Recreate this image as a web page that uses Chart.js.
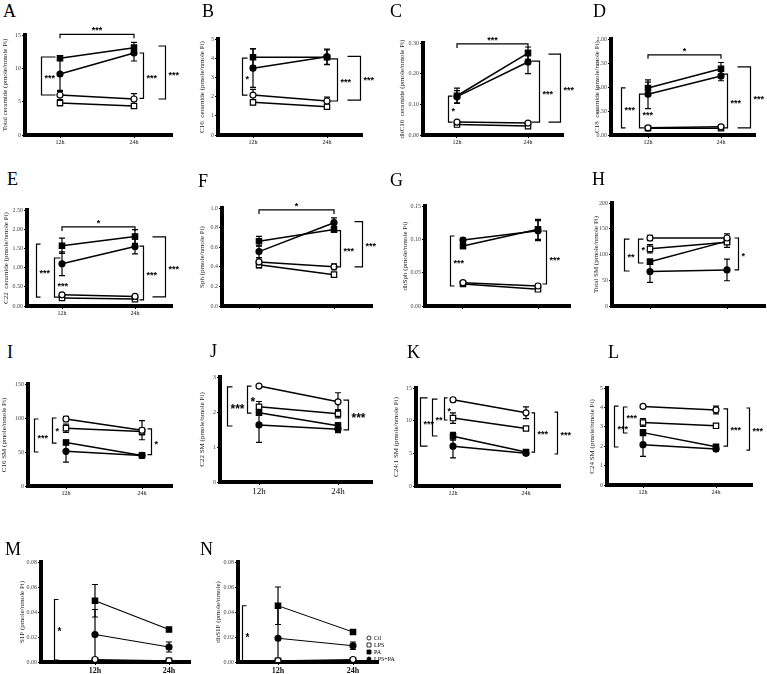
<!DOCTYPE html>
<html><head><meta charset="utf-8">
<script src="https://cdn.jsdelivr.net/npm/chart.js@4.4.0/dist/chart.umd.min.js"></script>
<style>
body{margin:0;background:#fff;width:767px;height:674px;position:relative;overflow:hidden;font-family:"Liberation Serif",serif;}
.lbl{position:absolute;font-size:18px;line-height:1;color:#000;font-family:"Liberation Serif",serif;}
canvas{position:absolute;}
</style></head><body>
<script>
// ---------- DATA ----------
const timePoints = ["12h","24h"];
const groups = ["Ctl","LPS","PA","LPS+PA"];
// each array: [Ctl, LPS, PA, LPS+PA], each entry [12h, 24h]
const totalCeramide = [[6.0,5.4],[4.8,4.35],[11.5,13.1],[9.15,12.3]];
const totalCeramideErr = [[0.7,0.8],[0.4,0.3],[0.3,0.8],[2.6,1.2]];
const totalCeramideTicks = ["0","5","10","15"];

const c16Ceramide = [[2.08,1.77],[1.7,1.47],[4.05,4.05],[3.48,4.08]];
const c16CeramideErr = [[0.3,0.2],[0.12,0.08],[0.45,0.38],[1.0,0.4]];
const c16CeramideTicks = ["0","1","2","3","4","5"];

const dhC16Ceramide = [[0.042,0.039],[0.034,0.029],[0.128,0.267],[0.125,0.238]];
const dhC16CeramideErr = [[0.005,0.004],[0.004,0.003],[0.025,0.02],[0.02,0.038]];
const dhC16CeramideTicks = ["0.00","0.10","0.20","0.30"];

const c18Ceramide = [[0.15,0.17],[0.14,0.14],[0.98,1.38],[0.85,1.23]];
const c18CeramideErr = [[0.02,0.03],[0.01,0.01],[0.12,0.13],[0.3,0.1]];
const c18CeramideTicks = ["0.00","0.50","1.00","1.50","2.00"];

const c22Ceramide = [[0.29,0.25],[0.21,0.18],[1.57,1.81],[1.1,1.55]];
const c22CeramideErr = [[0.04,0.04],[0.03,0.03],[0.2,0.18],[0.31,0.19]];
const c22CeramideTicks = ["0.00","0.50","1.00","1.50","2.00","2.50"];

const sph = [[0.45,0.40],[0.42,0.32],[0.66,0.78],[0.555,0.85]];
const sphErr = [[0.04,0.03],[0.03,0.02],[0.05,0.03],[0.06,0.05]];
const sphTicks = ["0.0","0.2","0.4","0.6","0.8","1.0"];

const dhSph = [[0.035,0.030],[0.033,0.025],[0.09,0.115],[0.099,0.113]];
const dhSphErr = [[0.003,0.003],[0.002,0.002],[0.004,0.015],[0.003,0.015]];
const dhSphTicks = ["0.00","0.05","0.10","0.15"];

const totalSM = [[132,132],[111,124],[86,126],[67,70]];
const totalSMErr = [[5,8],[8,10],[5,5],[21,21]];
const totalSMTicks = ["0","50","100","150","200"];

const c16SM = [[98.5,82],[85,80],[64,45],[51,45]];
const c16SMErr = [[4,14],[6,5],[3,2],[16,2]];
const c16SMTicks = ["0","50","100","150"];

const c22SM = [[2.74,2.29],[2.15,1.95],[1.98,1.61],[1.63,1.51]];
const c22SMErr = [[0.04,0.26],[0.15,0.12],[0.08,0.08],[0.5,0.1]];
const c22SMTicks = ["0","1","2","3"];

const c241SM = [[13.2,11.2],[10.4,8.8],[7.6,5.2],[6.1,5.0]];
const c241SMErr = [[0.3,0.9],[0.8,0.3],[0.6,0.3],[1.8,0.3]];
const c241SMTicks = ["0","5","10","15"];

const c24SM = [[4.05,3.87],[3.22,3.05],[2.7,1.97],[2.08,1.85]];
const c24SMErr = [[0.05,0.2],[0.2,0.08],[0.15,0.1],[0.6,0.1]];
const c24SMTicks = ["0","1","2","3","4","5"];

const s1p = [[0.002,0.001],[0.001,0.001],[0.049,0.026],[0.022,0.012]];
const s1pErr = [[0.001,0.0005],[0.001,0.0005],[0.013,0.001],[0.02,0.004]];
const s1pTicks = ["0.00","0.02","0.04","0.06","0.08"];

const dhS1P = [[0.001,0.002],[0.001,0.001],[0.045,0.024],[0.019,0.013]];
const dhS1PErr = [[0.001,0.001],[0.001,0.001],[0.015,0.001],[0.025,0.003]];
const dhS1PTicks = ["0.00","0.02","0.04","0.06","0.08"];

// ---------- STYLE / LAYOUT ----------
const pointStyles = ['circle','rect','rect','circle'];
const pointFills = ['#fff','#fff','#000','#000'];

// significance annotations: ['h', y, text] or ['v', x, y1, y2, text, armPx, dyPx]
const panels = [
 {k:'A', d:totalCeramide, e:totalCeramideErr, t:totalCeramideTicks, title:'Total ceramide (pmole/nmole Pi)', g:[25,35,135,172,60,134,5], lt:[3,17], xf:6, sf:9,
  sig:[['h',15.1,'***'],['v',-0.26,6.0,11.7,'***',14,0],['v',1.12,5.5,12.3,'***',-4,0],['v',1.42,5.4,13.35,'***',-7,0]]},
 {k:'B', d:c16Ceramide, e:c16CeramideErr, t:c16CeramideTicks, title:'C16  ceramide (pmole/nmole Pi)', g:[218,39,135,362,253,327,202], lt:[202,17], xf:6, sf:9,
  sig:[['v',-0.15,2.08,4.0,'*',5,0],['v',1.14,1.77,3.96,'***',-8,0],['v',1.45,1.82,4.1,'***',-13,0]]},
 {k:'C', d:dhC16Ceramide, e:dhC16CeramideErr, t:dhC16CeramideTicks, title:'dhC16  ceramide (pmole/nmole Pi)', g:[423,43,135,563,457,528,402], lt:[390,17], xf:6, sf:9,
  sig:[['h',0.297,'***'],['v',-0.13,0.042,0.127,'*',4,0],['v',1.15,0.042,0.241,'***',-8,0],['v',1.45,0.042,0.264,'***',-12,0]]},
 {k:'D', d:c18Ceramide, e:c18CeramideErr, t:c18CeramideTicks, title:'C18  ceramide (pmole/nmole Pi)', g:[611,39,135,755,648,721,597], lt:[593,17], xf:6, sf:9,
  sig:[['h',1.67,'*'],['v',-0.37,0.15,0.98,'***',4,0],['v',-0.12,0.15,0.85,'***',5,2],['v',1.08,0.15,1.27,'***',-4,0],['v',1.40,0.15,1.42,'***',-13,0]]},
 {k:'E', d:c22Ceramide, e:c22CeramideErr, t:c22CeramideTicks, title:'C22  ceramide (pmole/nmole Pi)', g:[27,210,306,172,62,135,6], lt:[7,185], xf:6, sf:9,
  sig:[['h',2.06,'*'],['v',-0.36,0.23,1.61,'***',4,0],['v',-0.11,0.23,1.25,'***',6,6],['v',1.11,0.16,1.56,'***',-4,0],['v',1.41,0.24,1.8,'***',-13,0]]},
 {k:'F', d:sph, e:sphErr, t:sphTicks, title:'Sph (pmole/nmole Pi)', g:[222,208,306,372,259,334,202], lt:[198,187], xf:0, sf:9,
  sig:[['h',0.98,'*'],['v',1.08,0.40,0.77,'***',-5,0],['v',1.37,0.40,0.86,'***',-8,0]]},
 {k:'G', d:dhSph, e:dhSphErr, t:dhSphTicks, title:'dhSph (pmole/nmole Pi)', g:[425,206,306,570,463,538,405], lt:[390,186], xf:0, sf:9,
  sig:[['v',-0.17,0.030,0.105,'***',4,0],['v',1.11,0.033,0.1125,'***',-4,0]]},
 {k:'H', d:totalSM, e:totalSMErr, t:totalSMTicks, title:'Total SM (pmole/nmole Pi)', g:[612,203,306,765,650,727,596], lt:[592,185], xf:0, sf:9,
  sig:[['v',-0.34,68,130,'**',5,0],['v',-0.16,83.5,130,'*',5,-3],['v',1.14,70,132,'*',-4,0]]},
 {k:'I', d:c16SM, e:c16SMErr, t:c16SMTicks, title:'C16 SM (pmole/nmole Pi)', g:[28,384,486,172,66,142,4], lt:[7,358], xf:6, sf:9,
  sig:[['v',-0.42,50,98.5,'***',4,0],['v',-0.18,63,100,'*',4,-2],['v',1.12,46,84,'*',-4,0]]},
 {k:'J', d:c22SM, e:c22SMErr, t:c22SMTicks, title:'C22 SM (pmole/nmole Pi)', g:[220,377,482,372,259,338,202], lt:[210,357], xf:9, sf:12,
  sig:[['v',-0.41,1.6,2.72,'***',5,0],['v',-0.15,1.97,2.74,'*',4,0],['v',1.13,1.49,2.34,'***',-5,0]]},
 {k:'K', d:c241SM, e:c241SMErr, t:c241SMTicks, title:'C24:1 SM (pmole/nmole Pi)', g:[416,388,486,560,453,526,396], lt:[407,358], xf:6, sf:9,
  sig:[['v',-0.45,6.1,13.5,'***',7,0],['v',-0.29,7.65,13.3,'**',5,0],['v',-0.12,10.1,13.5,'*',3,0],['v',1.11,5.2,11.2,'***',-3,0],['v',1.42,4.9,11.3,'***',-3,0]]},
 {k:'L', d:c24SM, e:c24SMErr, t:c24SMTicks, title:'C24 SM (pmole/nmole Pi)', g:[607,388,485,752,643,716,592], lt:[608,358], xf:6, sf:9,
  sig:[['v',-0.40,1.96,4.07,'***',4,0],['v',-0.27,2.68,4.02,'***',4,-4],['v',1.15,2.0,3.92,'***',-4,0],['v',1.45,1.8,3.97,'***',-3,0]]},
 {k:'M', d:s1p, e:s1pErr, t:s1pTicks, title:'S1P (pmole/nmole Pi)', g:[41,562,662,190,95,169,22], lt:[5,555], xf:8, xb:true, sf:10, lw:1.2,
  sig:[['v',-0.55,0.0015,0.05,'*',4,0]]},
 {k:'N', d:dhS1P, e:dhS1PErr, t:dhS1PTicks, title:'dhS1P (pmole/nmole)', g:[238,562,662,378,278,353,218], lt:[200,555], xf:8, xb:true, sf:10, lw:1, legend:true,
  sig:[['v',-0.48,0.001,0.045,'*',4,2]]}
];

const PT = 14, PR = 44, XH = 24;

const extras = {
  id: 'extras',
  beforeDatasetsDraw(chart, args, o) {
    const ctx = chart.ctx, ys = chart.scales.y;
    ctx.save();
    ctx.strokeStyle = '#000'; ctx.lineWidth = 1.2;
    chart.data.datasets.forEach((ds, i) => {
      const meta = chart.getDatasetMeta(i);
      meta.data.forEach((pt, j) => {
        const e = ds.err[j]; if (!e) return;
        const v = ds.data[j].y;
        const yt = ys.getPixelForValue(v + e), yb = ys.getPixelForValue(Math.max(v - e, 0));
        ctx.beginPath();
        ctx.moveTo(pt.x, yt); ctx.lineTo(pt.x, yb);
        ctx.moveTo(pt.x - 3, yt); ctx.lineTo(pt.x + 3, yt);
        ctx.moveTo(pt.x - 3, yb); ctx.lineTo(pt.x + 3, yb);
        ctx.stroke();
      });
    });
    ctx.restore();
  },
  afterDraw(chart, args, o) {
    const ctx = chart.ctx, xs = chart.scales.x, ys = chart.scales.y;
    ctx.save();
    ctx.strokeStyle = '#000'; ctx.fillStyle = '#000'; ctx.lineWidth = 1.2;
    ctx.font = 'bold ' + o.sf + 'px "Liberation Sans"';
    o.sig.forEach(s => {
      if (s[0] === 'h') {
        const y = ys.getPixelForValue(s[1]);
        const x1 = xs.getPixelForValue(0), x2 = xs.getPixelForValue(1);
        ctx.beginPath(); ctx.moveTo(x1, y + 4); ctx.lineTo(x1, y); ctx.lineTo(x2, y); ctx.lineTo(x2, y + 4); ctx.stroke();
        ctx.textAlign = 'center'; ctx.textBaseline = 'alphabetic';
        ctx.fillText(s[2], (x1 + x2) / 2, y + o.sf * 0.45 - 5);
      } else {
        const x = Math.round(xs.getPixelForValue(s[1])) + 0.5;
        const y1 = ys.getPixelForValue(s[2]), y2 = ys.getPixelForValue(s[3]);
        const a = s[5];
        ctx.beginPath(); ctx.moveTo(x + a, y1); ctx.lineTo(x, y1); ctx.lineTo(x, y2); ctx.lineTo(x + a, y2); ctx.stroke();
        ctx.textAlign = 'left'; ctx.textBaseline = 'middle';
        ctx.fillText(s[4], x + 3, (y1 + y2) / 2 + (s[6] || 0) + o.sf * 0.28);
      }
    });
    if (o.legend) {
      const rows = [638, 645, 652, 659];
      ctx.font = '6px "Liberation Serif"'; ctx.textAlign = 'left'; ctx.textBaseline = 'middle';
      groups.forEach((g, i) => {
        const px = 369 - o.off[0], py = rows[i] - o.off[1];
        ctx.fillStyle = pointFills[i]; ctx.lineWidth = 0.8; ctx.strokeStyle = '#000';
        ctx.beginPath();
        if (pointStyles[i] === 'circle') ctx.arc(px, py, 2, 0, Math.PI * 2);
        else ctx.rect(px - 2, py - 2, 4, 4);
        ctx.fill(); ctx.stroke();
        ctx.fillStyle = '#000';
        ctx.fillText(g, px + 5, py);
      });
    }
    ctx.restore();
  }
};

panels.forEach(p => {
  const [L, T, B, R, x12, x24, tx] = p.g;
  const unit = x24 - x12;
  const xmin = -(x12 - L) / unit, xmax = 1 + (R - x24) / unit;
  const YW = Math.round(L - tx + 4);
  const cl = L - YW, ct = T - PT;
  const w = R - L + YW + PR, h = B - T + PT + XH;
  const cv = document.createElement('canvas');
  cv.width = w; cv.height = h;
  cv.style.left = cl + 'px'; cv.style.top = ct + 'px';
  cv.style.width = w + 'px'; cv.style.height = h + 'px';
  document.body.appendChild(cv);

  const lbl = document.createElement('div');
  lbl.className = 'lbl'; lbl.textContent = p.k;
  lbl.style.left = p.lt[0] + 'px'; lbl.style.top = (p.lt[1] - 15) + 'px';
  document.body.appendChild(lbl);

  const tickVals = p.t.map(Number);
  const datasets = groups.map((g, i) => ({
    label: g,
    data: timePoints.map((tp, j) => ({x: j, y: p.d[i][j]})),
    err: p.e[i],
    borderColor: '#000', borderWidth: p.lw || 1.5,
    pointStyle: pointStyles[i], pointRadius: pointStyles[i] === 'rect' ? 3.8 : 3,
    pointBackgroundColor: pointFills[i], pointBorderColor: '#000', pointBorderWidth: 1.2,
    fill: false, tension: 0
  }));

  new Chart(cv, {
    type: 'line',
    data: {datasets},
    options: {
      responsive: false, animation: false, devicePixelRatio: 1, events: [],
      layout: {padding: {left: 0, top: PT, right: PR, bottom: 0}},
      plugins: {legend: {display: false}, tooltip: {enabled: false},
        extras: {sig: p.sig, sf: p.sf, legend: !!p.legend, off: [cl, ct]}},
      scales: {
        x: {
          type: 'linear', min: xmin, max: xmax,
          afterBuildTicks: s => { s.ticks = [{value: 0}, {value: 1}]; },
          afterFit: s => { s.height = XH; },
          grid: {display: true, drawOnChartArea: false, drawTicks: true, tickLength: 3, color: '#000', lineWidth: 1},
          border: {display: true, color: '#000', width: 4},
          ticks: {
            display: p.xf > 0, padding: 1, color: '#111', maxRotation: 0, autoSkip: false,
            font: {family: 'Liberation Serif', size: p.xf || 6, weight: p.xb ? 'bold' : 'normal'},
            callback: (v, i) => timePoints[i]
          }
        },
        y: {
          type: 'linear', min: 0, max: tickVals[tickVals.length - 1],
          afterBuildTicks: s => { s.ticks = tickVals.map(v => ({value: v})); },
          afterFit: s => { s.width = YW; },
          grid: {display: true, drawOnChartArea: false, drawTicks: true, tickLength: 3, color: '#000', lineWidth: 1},
          border: {display: true, color: '#000', width: 4},
          title: {display: true, text: p.title, color: '#222', padding: 0,
            font: {family: 'Liberation Serif', size: 7}},
          ticks: {padding: 1, color: '#444', autoSkip: false,
            font: {family: 'Liberation Serif', size: 6},
            callback: (v, i) => p.t[i]}
        }
      }
    },
    plugins: [extras]
  });
});
</script>
</body></html>
